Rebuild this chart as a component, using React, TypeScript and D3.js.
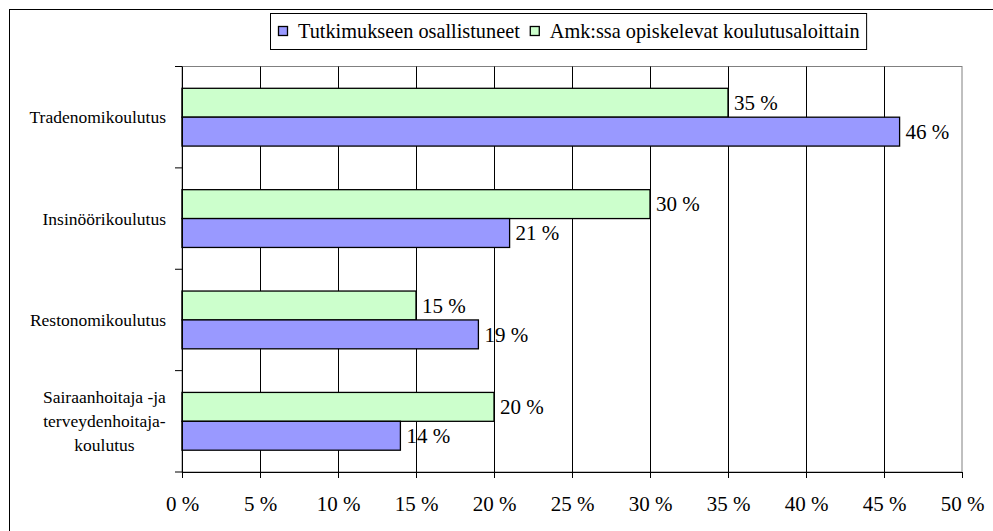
import React, { useEffect, useRef } from 'react'
import * as d3 from 'd3'

// chart data
const categories = [
    'Tradenomikoulutus',
    'Insinöörikoulutus',
    'Restonomikoulutus',
    'Sairaanhoitaja -ja\nterveydenhoitaja-\nkoulutus',
]
const seriesNames = ['Tutkimukseen osallistuneet', 'Amk:ssa opiskelevat koulutusaloittain']
const participants = [46, 21, 19, 14]
const students = [35, 30, 15, 20]
const xTicks = [0, 5, 10, 15, 20, 25, 30, 35, 40, 45, 50]

const FONT = '"Liberation Serif", "Times New Roman", serif'
const PURPLE = '#9999ff'
const GREEN = '#ccffcc'

export default function App() {
    const ref = useRef<SVGSVGElement>(null)

    useEffect(() => {
        const W = 993
        const H = 531
        const margin = { top: 66.5, right: 31, bottom: 59, left: 182 }
        const width = W - margin.left - margin.right
        const height = H - margin.top - margin.bottom

        const root = d3.select(ref.current)
        root.selectAll('*').remove()

        // outer chart border (right / bottom fall outside the picture)
        root.append('rect')
            .attr('x', 9.5).attr('y', 9.5)
            .attr('width', 1100).attr('height', 700)
            .attr('fill', 'white')
            .attr('stroke', '#000')

        const svg = root.append('g')
            .attr('transform', `translate(${margin.left},${margin.top})`)

        const x = d3.scaleLinear().domain([0, 50]).range([0, width])
        const y = d3.scaleBand<string>()
            .domain(categories)
            .range([0, height])
            .paddingInner(0.43)
            .paddingOuter(0.215)
        // green (students) on top, purple (participants) below
        const sub = d3.scaleBand<string>()
            .domain(['students', 'participants'])
            .range([0, y.bandwidth()])

        // plot area border
        svg.append('rect')
            .attr('x', 0).attr('y', 0)
            .attr('width', width).attr('height', height)
            .attr('fill', 'none')
            .attr('stroke', '#808080')

        // vertical gridlines
        svg.selectAll('.grid')
            .data(xTicks.slice(1, -1))
            .join('line')
            .attr('class', 'grid')
            .attr('x1', d => Math.round(x(d)) + 0.5)
            .attr('x2', d => Math.round(x(d)) + 0.5)
            .attr('y1', 0).attr('y2', height)
            .attr('stroke', '#000')

        // bars
        const rows = categories.map((c, i) => ({ c, students: students[i], participants: participants[i] }))
        const groups = svg.selectAll('.row')
            .data(rows)
            .join('g')
            .attr('transform', d => `translate(0,${y(d.c)})`)

        const keys: Array<'students' | 'participants'> = ['students', 'participants']
        keys.forEach(k => {
            groups.append('rect')
                .attr('x', 0)
                .attr('y', sub(k) as number)
                .attr('width', d => x(d[k]))
                .attr('height', sub.bandwidth())
                .attr('fill', k === 'students' ? GREEN : PURPLE)
                .attr('stroke', '#000')
                .attr('stroke-width', 1.3)

            groups.append('text')
                .attr('x', d => x(d[k]) + 6)
                .attr('y', (sub(k) as number) + sub.bandwidth() / 2)
                .attr('dy', '0.35em')
                .style('font-family', FONT)
                .style('font-size', '21px')
                .text(d => `${d[k]} %`)
        })

        // x axis
        const xAxis = svg.append('g')
            .attr('transform', `translate(0,${height})`)
            .call(d3.axisBottom(x).tickValues(xTicks).tickSize(6).tickSizeOuter(0).tickFormat(d => `${d} %`))
        xAxis.attr('font-family', null).attr('font-size', null)
        xAxis.select('.domain').attr('stroke', '#000')
        xAxis.selectAll('line').attr('stroke', '#000')
        xAxis.selectAll('text')
            .style('font-family', FONT)
            .style('font-size', '21px')
            .attr('fill', '#000')
            .attr('dy', '1.45em')

        // y axis: ticks at category boundaries
        const boundaries = d3.range(categories.length + 1).map(i => (i * height) / categories.length)
        svg.append('line')
            .attr('x1', 0.5).attr('x2', 0.5)
            .attr('y1', 0).attr('y2', height)
            .attr('stroke', '#000')
        svg.selectAll('.ytick')
            .data(boundaries)
            .join('line')
            .attr('class', 'ytick')
            .attr('x1', -7).attr('x2', 0)
            .attr('y1', d => d).attr('y2', d => d)
            .attr('stroke', '#000')

        // category labels
        const lineH = 24
        categories.forEach(c => {
            const lines = c.split('\n')
            const cy = (y(c) as number) + y.bandwidth() / 2
            const t = svg.append('text')
                .style('font-family', FONT)
                .style('font-size', '17.5px')
                .attr('text-anchor', lines.length > 1 ? 'middle' : 'end')
            lines.forEach((ln, i) => {
                t.append('tspan')
                    .attr('x', 0)
                    .attr('y', cy + (i - (lines.length - 1) / 2) * lineH)
                    .attr('dy', '0.35em')
                    .text(ln)
            })
            const node = t.node() as SVGTextElement
            const w = lines.length > 1 ? node.getBBox().width : 0
            const lx = -16 - w / 2
            t.selectAll('tspan').attr('x', lx)
        })

        // legend
        const legend = root.append('g')
        const box = legend.append('rect')
            .attr('x', 270.5).attr('y', 13.5)
            .attr('height', 36)
            .attr('fill', 'white')
            .attr('stroke', '#000')
        let lx = 278
        seriesNames.forEach((name, i) => {
            legend.append('rect')
                .attr('x', lx + 0.5).attr('y', 26.5)
                .attr('width', 9).attr('height', 9)
                .attr('fill', i === 0 ? PURPLE : GREEN)
                .attr('stroke', '#000')
                .attr('stroke-width', 1.3)
            const txt = legend.append('text')
                .attr('x', lx + 20)
                .attr('y', 38)
                .style('font-family', FONT)
                .style('font-size', '20.3px')
                .text(name)
            const tw = (txt.node() as SVGTextElement).getComputedTextLength()
            lx = lx + 20 + tw + 10
        })
        box.attr('width', lx - 270.5 - 3)
    }, [])

    return (
        <svg ref={ref} width={993} height={531}
            style={{ position: 'absolute', left: 0, top: 0, background: 'white' }} />
    )
}
